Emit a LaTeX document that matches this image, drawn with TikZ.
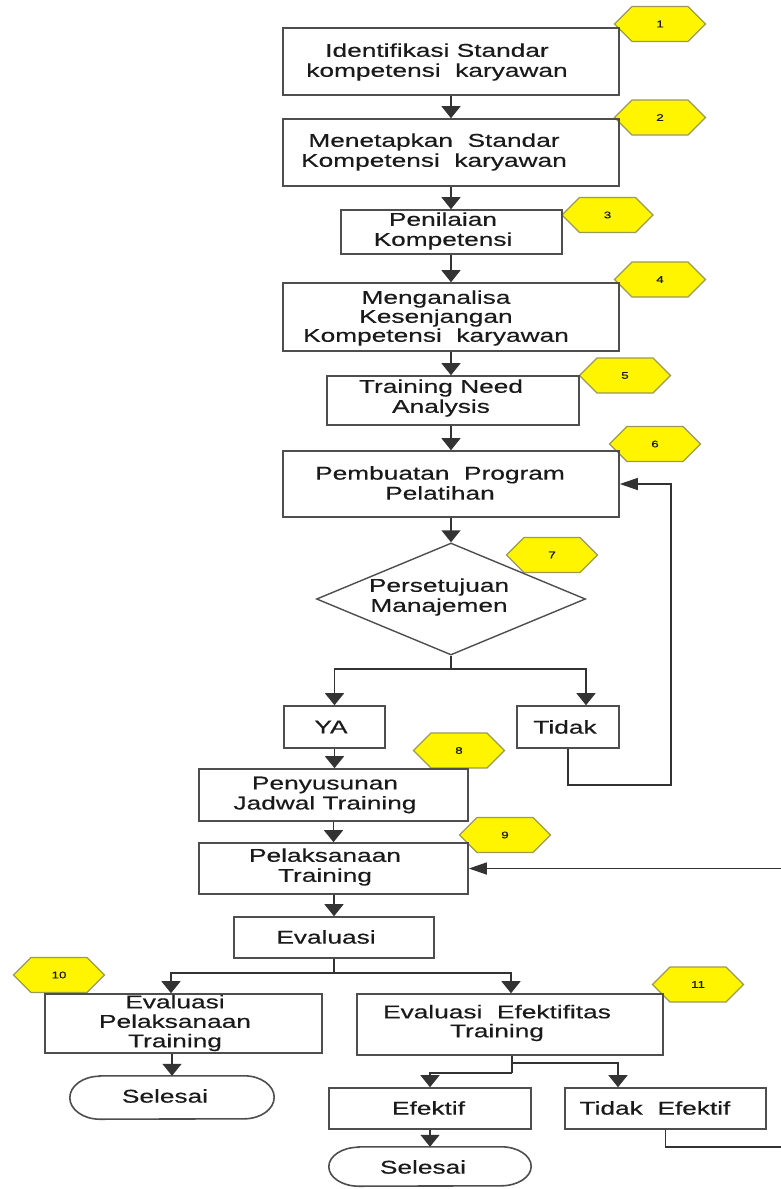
\documentclass[tikz,border=0pt]{standalone}
\usepackage{fontspec}
\setmainfont{Liberation Sans}[FakeStretch=1.42,FakeBold=0.4]
\usetikzlibrary{arrows.meta,shapes.geometric,calc}
\definecolor{ln}{HTML}{333333}
\definecolor{bx}{HTML}{4E4E4E}
\definecolor{hexy}{HTML}{FFF500}
\definecolor{hexb}{HTML}{9A9A55}
\definecolor{tx}{HTML}{1A1A1A}
\tikzset{
 box/.style={draw=bx, line width=1.6pt, inner sep=0pt, rectangle},
 holder/.style={inner sep=0pt, rectangle},
 txt/.style={font=\fontsize{18.5}{20}\selectfont, align=center, inner sep=0pt, text=tx},
 conn/.style={draw=ln, line width=1.4pt},
 arrV/.style={-{Triangle[width=19pt,length=12pt]}},
 arrH/.style={-{Triangle[width=12pt,length=18pt]}},
 hexsty/.style={fill=hexy, draw=hexb, line width=1.2pt},
 hexlbl/.style={font=\fontsize{9.5}{10}\selectfont, text=tx, inner sep=0pt},
}
\newcommand{\hexn}[4]{%
 \filldraw[hexsty] (#2-45.5,#3) -- (#2-28,#3-17.5) -- (#2+28,#3-17.5) -- (#2+45.5,#3) -- (#2+28,#3+17.5) -- (#2-28,#3+17.5) -- cycle;
 \node[hexlbl] (#1) at (#2,#3) {#4};}
\newcommand{\stadium}[2]{%
 \draw[box] ([xshift=30pt]#1.north west) -- ([xshift=-30pt]#1.north east)
   arc[start angle=90,end angle=-90,x radius=30pt,y radius=#2]
   -- ([xshift=30pt]#1.south west)
   arc[start angle=270,end angle=90,x radius=30pt,y radius=#2] -- cycle;}
\begin{document}
\begin{tikzpicture}[x=1pt,y=-1pt]
\useasboundingbox (0,0) rectangle (780,1189);
\fill[white] (0,0) rectangle (780,1189);
% hexagon step numbers
\hexn{h1}{660}{24}{1}
\hexn{h2}{660}{117.5}{2}
\hexn{h3}{607.5}{215}{3}
\hexn{h4}{660}{279.5}{4}
\hexn{h5}{625}{375.5}{5}
\hexn{h6}{655}{444}{6}
\hexn{h7}{552}{555}{7}
\hexn{h8}{459}{750.5}{8}
\hexn{h9}{505}{835}{9}
\hexn{h10}{59}{975}{10}
\hexn{h11}{698}{984.5}{11}
% boxes
\node[box, minimum width=336, minimum height=67] (b1) at (451,61.5) {};
\node[txt] (t1) at (437,62) {Identifikasi Standar\\kompetensi~ karyawan};
\node[box, minimum width=336, minimum height=67] (b2) at (451,152.5) {};
\node[txt] (t2) at (434,152) {Menetapkan~ Standar\\Kompetensi~ karyawan};
\node[box, minimum width=221, minimum height=44] (b3) at (451.5,232) {};
\node[txt] (t3) at (443,231) {Penilaian\\Kompetensi};
\node[box, minimum width=336, minimum height=68] (b4) at (451,317) {};
\node[txt, font=\fontsize{18.5}{19}\selectfont] (t4) at (436,318) {Menganalisa\\Kesenjangan\\Kompetensi~ karyawan};
\node[box, minimum width=252, minimum height=49] (b5) at (453,400.5) {};
\node[txt] (t5) at (441,398) {Training Need\\Analysis};
\node[box, minimum width=336, minimum height=66] (b6) at (451,484) {};
\node[txt] (t6) at (440,483) {Pembuatan~ Program\\Pelatihan};
\node[draw=bx, line width=1.4pt, diamond, aspect=2.4, minimum width=269, minimum height=112, inner sep=0pt] (d7) at (451,599) {};
\node[txt] (t7) at (439,597) {Persetujuan\\Manajemen};
\node[box, minimum width=101, minimum height=42] (ya) at (334.5,727) {};
\node[txt] (tya) at (331,727) {YA};
\node[box, minimum width=102, minimum height=42] (td) at (568,727) {};
\node[txt] (ttd) at (565,727) {Tidak};
\node[box, minimum width=269, minimum height=52] (b8) at (333.5,795) {};
\node[txt] (t8) at (325,795) {Penyusunan\\Jadwal Training};
\node[box, minimum width=269, minimum height=51] (b9) at (333.5,868.5) {};
\node[txt] (t9) at (325,867) {Pelaksanaan\\Training};
\node[box, minimum width=200, minimum height=41] (ev) at (334,937.5) {};
\node[txt] (tev) at (326,937) {Evaluasi};
\node[box, minimum width=277, minimum height=59] (b10) at (183.5,1023.5) {};
\node[txt, font=\fontsize{18.5}{19.5}\selectfont] (t10) at (175,1023) {Evaluasi\\Pelaksanaan\\Training};
\node[box, minimum width=306, minimum height=61] (b11) at (510,1024.5) {};
\node[txt, font=\fontsize{18.5}{19}\selectfont] (t11) at (497,1023) {Evaluasi~ Efektifitas\\Training};
\node[box, minimum width=202, minimum height=41] (ef) at (430,1108.5) {};
\node[txt] (tef) at (428.5,1108) {Efektif};
\node[box, minimum width=201, minimum height=41] (te) at (665.5,1108.5) {};
\node[txt] (tte) at (655,1108) {Tidak~ Efektif};
\node[holder, minimum width=204, minimum height=43] (s1) at (172,1097.5) {};
\stadium{s1}{21.5pt}
\node[txt] (ts1) at (165,1096) {Selesai};
\node[holder, minimum width=202, minimum height=39] (s2) at (430,1166.5) {};
\stadium{s2}{19.5pt}
\node[txt] (ts2) at (423,1167) {Selesai};
% junction coordinates
\coordinate (j1) at (451,669);
\coordinate (j2) at (334,973);
\coordinate (j3) at (512,1073);
\coordinate (j4) at (512,1063);
\coordinate (lp1) at (671,785);
\coordinate (lp2) at (786,1147);
% connectors
\draw[conn, arrV] (b1.south) -- (b2.north);
\draw[conn, arrV] (b2.south) -- (b2.south |- b3.north);
\draw[conn, arrV] (b3.south -| b4.north) -- (b4.north);
\draw[conn, arrV] (b4.south) -- (b4.south |- b5.north);
\draw[conn, arrV] (b6.north |- b5.south) -- (b6.north);
\draw[conn, arrV] (b6.south) -- (d7.north);
\draw[conn] (d7.south) -- (j1);
\draw[conn, arrV] (j1) -| (ya.north);
\draw[conn, arrV] (j1) -| ([xshift=18pt]td.north);
\draw[conn, arrH] (td.south) |- (lp1) |- (b6.east);
\draw[conn, arrV] (ya.south) -- (ya.south |- b8.north);
\draw[conn, arrV] (b8.south) -- (b9.north);
\draw[conn, arrV] (ev.north |- b9.south) -- (ev.north);
\draw[conn] (ev.south) -- (j2);
\draw[conn, arrV] (j2) -| ([xshift=-12.5pt]b10.north);
\draw[conn, arrV] (j2) -| ([xshift=1pt]b11.north);
\draw[conn, arrV] (s1.north |- b10.south) -- (s1.north);
\draw[conn] (b11.south -| j3) -- (j3);
\draw[conn, arrV] (j3) -| (ef.north);
\draw[conn, arrV] (j4) -| ([xshift=-47.5pt]te.north);
\draw[conn, arrV] (ef.south) -- (s2.north);
\draw[conn, arrH] (te.south) |- (lp2) |- (b9.east);
\end{tikzpicture}
\end{document}
